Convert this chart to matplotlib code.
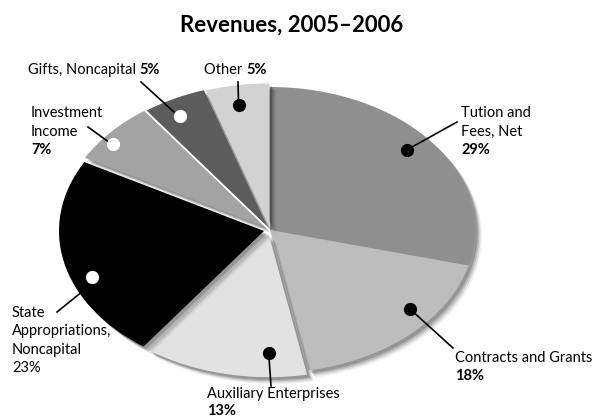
import matplotlib
matplotlib.use("Agg")
import matplotlib.pyplot as plt
import matplotlib.patheffects as pe
import numpy as np

plt.rcParams['font.family'] = ['Lato', 'DejaVu Sans']

# ---- data ----
title = "Revenues, 2005\u20132006"
labels = ["Tution and\nFees, Net", "Contracts and Grants", "Auxiliary Enterprises",
          "State\nAppropriations,\nNoncapital", "Investment\nIncome",
          "Gifts, Noncapital", "Other"]
values = [29, 18, 13, 23, 7, 5, 5]
pct_labels = ["29%", "18%", "13%", "23%", "7%", "5%", "5%"]

# ---- style / layout ----
colors = ["#8f8f8f", "#bdbdbd", "#e2e2e2", "#000000", "#a3a3a3", "#5c5c5c", "#d2d2d2"]
explode = [0.0, 0.0, 0.03, 0.03, 0.035, 0.03, 0.025]
dot_colors = ["k", "k", "k", "w", "w", "w", "k"]
# dot placement (angle in degrees, radius fraction)
dot_pos = [(40, 0.87), (-39, 0.88), (-90, 0.83), (-159, 0.9), (142, 0.94), (119, 0.88), (100, 0.86)]

W, H = 600, 417
cx, cy = 270, 230   # pie centre in pixels (from top-left)
rx, ry = 205, 143   # ellipse radii in pixels

fig = plt.figure(figsize=(W / 100, H / 100), dpi=100)
ax = fig.add_axes([0, 0, 1, 1])

wedges, _ = ax.pie(values, colors=colors, startangle=90, counterclock=False,
                   explode=explode, radius=1.0,
                   wedgeprops=dict(linewidth=0))
shadow = [pe.SimplePatchShadow(offset=(5, -5), shadow_rgbFace='k', alpha=0.06),
          pe.SimplePatchShadow(offset=(4, -4), shadow_rgbFace='k', alpha=0.10),
          pe.SimplePatchShadow(offset=(3, -3), shadow_rgbFace='k', alpha=0.14),
          pe.SimplePatchShadow(offset=(2, -2), shadow_rgbFace='k', alpha=0.18),
          pe.Normal()]
for w in wedges:
    w.set_path_effects(shadow)

ax.set_aspect('auto')
ax.set_xlim(-cx / rx, (W - cx) / rx)
ax.set_ylim(-(H - cy) / ry, cy / ry)
ax.axis('off')


def px(x, y):
    """pixel (from top-left) -> data coords"""
    return (x - cx) / rx, (cy - y) / ry


# dots, located from wedge geometry
dots = []
for w, (ang, rf), dc in zip(wedges, dot_pos, dot_colors):
    ox, oy = w.center
    a = np.deg2rad(ang)
    dx, dy = ox + rf * np.cos(a), oy + rf * np.sin(a)
    dots.append((dx, dy))
    ax.plot(dx, dy, 'o', ms=8.5, mfc=dc, mec=dc, zorder=5)

fs = 10.5
# leader lines: (from, to) in pixels
leaders = {
    0: ((408, 149), (457, 122)),
    1: ((411, 310), (453, 348)),
    2: ((271, 350), (271, 386)),
    3: ((83, 291), (57, 312)),
    4: ((110, 143), (88, 127)),
    5: ((174, 112), (141, 82)),
    6: ((238, 108), (238, 82)),
}
for i, (p0, p1) in leaders.items():
    if i in (3, 4, 5):
        a = px(*p0)
    else:
        a = dots[i]
    b = px(*p1)
    ax.plot([a[0], b[0]], [a[1], b[1]], color='k', lw=1.2, zorder=4)

# text blocks: label then bold percentage
def block(i, x, y, lh=18.5, pct_bold=True):
    lines = labels[i].split("\n")
    for k, ln in enumerate(lines):
        ax.text(*px(x, y + k * lh), ln, fontsize=fs, ha='left', va='center')
    ax.text(*px(x, y + len(lines) * lh), pct_labels[i], fontsize=fs,
            fontweight='bold' if pct_bold else 'normal', ha='left', va='center')

block(0, 461, 113)
block(1, 455, 358)
block(2, 207, 394, lh=17)
block(3, 12, 313, pct_bold=False)
block(4, 31, 113)

for i, (x, y) in ((5, (28, 70)), (6, (204, 70))):
    t = ax.text(*px(x, y), labels[i] + " ", fontsize=fs, ha='left', va='center')
    ax.annotate(pct_labels[i], xy=(1, 0.5), xycoords=t, fontsize=fs,
                fontweight='bold', ha='left', va='center')

fig.text(292 / W, 1 - 25 / H, title, fontsize=16, fontweight='bold', ha='center', va='center')

fig.savefig("out.png", dpi=100)
